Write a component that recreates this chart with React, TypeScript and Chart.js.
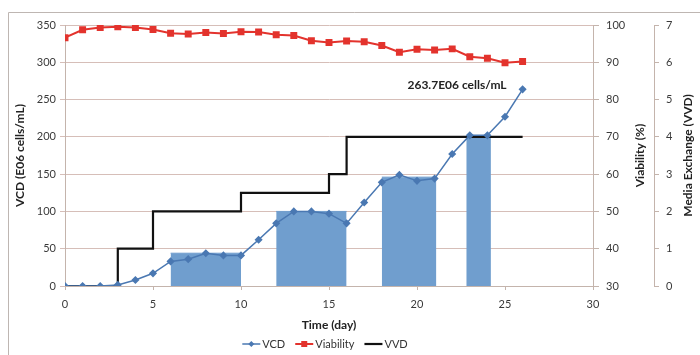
import React, { useEffect, useRef } from 'react';
import { Chart, registerables } from 'chart.js';

Chart.register(...registerables);

// ---------- data ----------
const days = [0, 1, 2, 3, 4, 5, 6, 7, 8, 9, 10, 11, 12, 13, 14, 15, 16, 17, 18, 19, 20, 21, 22, 23, 24, 25, 26];
const vcd = [0, 0, 0, 1.5, 8, 17, 33, 36, 44, 41, 41, 62, 84, 100, 100, 97, 84, 112, 139, 149, 141, 144, 177, 202, 202, 227, 263.7];
const viability = [96.6, 98.7, 99.3, 99.5, 99.3, 98.8, 97.8, 97.6, 98.0, 97.7, 98.2, 98.1, 97.4, 97.2, 95.8, 95.3, 95.7, 95.5, 94.5, 92.7, 93.5, 93.3, 93.6, 91.5, 91.1, 89.9, 90.2];
const vvdDays = [0, 3, 5, 10, 15, 16, 26];
const vvd = [0, 1, 2, 2.5, 3, 4, 4];
const exchangeStart = [6, 12, 18, 22.8];
const exchangeEnd = [10, 16, 21.1, 24.2];
const exchangeLevel = [44, 100, 146, 201];
const peakLabel = '263.7E06 cells/mL';
const legendLabels = ['VCD', 'Viability', 'VVD'];

// ---------- styles ----------
const FONT = 'Lato, "Open Sans", "DejaVu Sans", sans-serif';
const GRID = 'rgb(214,190,184)';
const AXIS = 'rgb(196,180,172)';
const TICK_TXT = '#3a3a3a';
const BLUE = '#4a78b2';
const RED = '#e3332d';
const BAR = 'rgb(112,158,206)';

const frameAndTextPlugin = {
  id: 'frameAndText',
  beforeDraw(chart: any) {
    const ctx = chart.ctx;
    ctx.save();
    ctx.fillStyle = '#fff';
    ctx.fillRect(0, 0, chart.width, chart.height);
    ctx.strokeStyle = 'rgb(190,182,178)';
    ctx.lineWidth = 1;
    ctx.beginPath();
    ctx.moveTo(8.5, chart.height);
    ctx.lineTo(8.5, 12.5);
    ctx.lineTo(chart.width, 12.5);
    ctx.stroke();
    ctx.restore();
  },
  afterDraw(chart: any) {
    const ctx = chart.ctx;
    const area = chart.chartArea;
    const midY = (area.top + area.bottom) / 2;
    ctx.save();
    // right axis titles (rotated -90)
    const titles = [
      { axis: 'y1', text: 'Viability (%)', inset: 14 },
      { axis: 'y2', text: 'Media Exchange (VVD)', inset: 12 },
    ];
    ctx.font = `bold 12px ${FONT}`;
    ctx.fillStyle = '#222';
    ctx.textAlign = 'center';
    ctx.textBaseline = 'middle';
    titles.forEach((t) => {
      const sc = chart.scales[t.axis];
      ctx.save();
      ctx.translate(sc.right - t.inset, midY);
      ctx.rotate(-Math.PI / 2);
      ctx.fillText(t.text, 0, 0);
      ctx.restore();
    });

    // peak annotation anchored to last VCD point
    const meta = chart.getDatasetMeta(0);
    const last = meta.data[meta.data.length - 1];
    ctx.textAlign = 'right';
    ctx.fillText(peakLabel, last.x - 16, last.y - 4);

    // legend
    ctx.font = `11px ${FONT}`;
    const lineLen = 18;
    const gap = 10;
    const items = legendLabels.map((lab) => {
      const ds = chart.data.datasets.find((d: any) => d.label === lab);
      return { lab, ds, w: lineLen + 2 + ctx.measureText(lab).width };
    });
    const total = items.reduce((s, it) => s + it.w, 0) + gap * (items.length - 1);
    let x = (area.left + area.right) / 2 - 4 - total / 2;
    const y = 344;
    items.forEach((it) => {
      const ds = it.ds;
      ctx.strokeStyle = ds.borderColor;
      ctx.lineWidth = ds.borderWidth;
      ctx.beginPath();
      ctx.moveTo(x, y);
      ctx.lineTo(x + lineLen, y);
      ctx.stroke();
      const cx = x + lineLen / 2;
      ctx.fillStyle = ds.borderColor;
      if (ds.pointStyle === 'rectRot') {
        ctx.beginPath();
        ctx.moveTo(cx, y - 3);
        ctx.lineTo(cx + 3, y);
        ctx.lineTo(cx, y + 3);
        ctx.lineTo(cx - 3, y);
        ctx.closePath();
        ctx.fill();
      } else if (ds.pointStyle === 'rect' && ds.pointRadius > 0) {
        ctx.fillRect(cx - 3, y - 3, 6, 6);
      }
      ctx.fillStyle = '#333';
      ctx.textAlign = 'left';
      ctx.fillText(it.lab, x + lineLen + 2, y);
      x += it.w + gap;
    });
    ctx.restore();
  },
};

export default function App() {
  const ref = useRef<HTMLCanvasElement>(null);

  useEffect(() => {
    if (!ref.current) return;
    const exchangeData: any[] = [];
    exchangeStart.forEach((s, i) => {
      exchangeData.push({ x: s, y: exchangeLevel[i] });
      exchangeData.push({ x: exchangeEnd[i], y: exchangeLevel[i] });
      exchangeData.push({ x: exchangeEnd[i], y: null });
    });

    const tickFont = { family: FONT, size: 11 };
    const titleFont = { family: FONT, size: 12, weight: 'bold' as const };

    const chart = new Chart(ref.current, {
      type: 'line',
      data: {
        datasets: [
          {
            label: 'VCD',
            data: days.map((d, i) => ({ x: d, y: vcd[i] })),
            yAxisID: 'y',
            borderColor: BLUE,
            backgroundColor: BLUE,
            borderWidth: 1.5,
            pointStyle: 'rectRot',
            pointRadius: 3,
            pointBackgroundColor: BLUE,
            pointBorderColor: BLUE,
            order: 0,
          },
          {
            label: 'Viability',
            data: days.map((d, i) => ({ x: d, y: viability[i] })),
            yAxisID: 'y1',
            borderColor: RED,
            backgroundColor: RED,
            borderWidth: 2,
            pointStyle: 'rect',
            pointRadius: 3.5,
            pointBackgroundColor: RED,
            pointBorderColor: RED,
            order: 1,
          },
          {
            label: 'VVD',
            data: vvdDays.map((d, i) => ({ x: d, y: vvd[i] })),
            yAxisID: 'y2',
            borderColor: '#111',
            borderWidth: 2.2,
            pointRadius: 0,
            stepped: 'before',
            order: 2,
          },
          {
            label: 'Exchange',
            data: exchangeData,
            yAxisID: 'y',
            borderColor: BAR,
            backgroundColor: BAR,
            borderWidth: 1,
            pointRadius: 0,
            fill: 'origin',
            spanGaps: false,
            order: 3,
          },
        ] as any,
      },
      options: {
        responsive: false,
        animation: false,
        layout: { padding: { left: 0, right: 0, top: 25, bottom: 22 } },
        plugins: {
          legend: { display: false },
          tooltip: { enabled: false },
        },
        scales: {
          x: {
            type: 'linear',
            min: 0,
            max: 30,
            ticks: { stepSize: 5, font: tickFont, color: TICK_TXT, padding: 8 },
            grid: { drawOnChartArea: false, drawTicks: true, tickLength: 4, color: AXIS },
            border: { display: true, color: AXIS },
            title: { display: true, text: 'Time (day)', font: titleFont, color: '#222', padding: { top: 0, bottom: 1 } },
            afterFit: (s: any) => { s.height = 47; },
          },
          y: {
            position: 'left',
            min: 0,
            max: 350,
            ticks: { stepSize: 50, font: tickFont, color: TICK_TXT, padding: 4 },
            grid: { color: GRID, tickLength: 5, lineWidth: 1 },
            border: { display: true, color: AXIS },
            title: { display: true, text: 'VCD (E06 cells/mL)', font: titleFont, color: '#222', padding: { top: 13, bottom: 0 } },
            afterFit: (s: any) => { s.width = 65; },
          },
          y1: {
            position: 'right',
            weight: 0,
            min: 30,
            max: 100,
            ticks: { stepSize: 10, font: tickFont, color: TICK_TXT, padding: 7 },
            grid: { drawOnChartArea: false, drawTicks: true, tickLength: 6, color: AXIS },
            border: { display: true, color: AXIS },
            afterFit: (s: any) => { s.width = 61; },
          },
          y2: {
            position: 'right',
            weight: 1,
            min: 0,
            max: 7,
            ticks: { stepSize: 1, font: tickFont, color: TICK_TXT, padding: 7 },
            grid: { drawOnChartArea: false, drawTicks: true, tickLength: 5, color: AXIS },
            border: { display: true, color: AXIS },
            afterFit: (s: any) => { s.width = 46; },
          },
        } as any,
      },
      plugins: [frameAndTextPlugin],
    });
    return () => chart.destroy();
  }, []);

  return (
    <div style={{ position: 'absolute', left: 0, top: 0, width: 700, height: 355 }}>
      <canvas ref={ref} width={700} height={355} style={{ width: 700, height: 355, display: 'block' }} />
    </div>
  );
}
